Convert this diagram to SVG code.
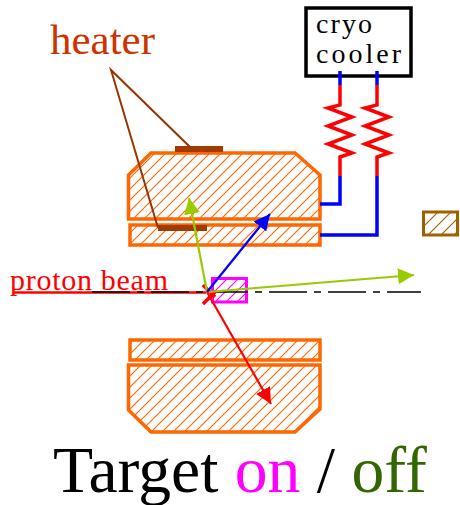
<svg xmlns="http://www.w3.org/2000/svg" width="460" height="505" viewBox="0 0 460 505">
<style>
.s{font-family:"Liberation Serif",serif}
.o{fill:url(#ho);stroke:#ff6600;stroke-width:3.5}
.w{fill:none;stroke-width:3.5}
.red{stroke:#ff0000}.blue{stroke:#0000ff}
.htr{fill:#a03c00}
.lead{fill:none;stroke:#993300;stroke-width:2}
</style>
<defs>
<pattern id="ho" width="11" height="11" patternUnits="userSpaceOnUse"><rect width="11" height="11" fill="#fff"/><path d="M-1 12L12 -1M-1 1L1 -1M10 12L12 10" stroke="#ff6600" stroke-width="1.100" fill="none"/></pattern>
<pattern id="hb" width="13" height="13" patternUnits="userSpaceOnUse"><rect width="13" height="13" fill="#fff"/><path d="M-1 14L14 -1M-1 1L1 -1M12 14L14 12" stroke="#a06000" stroke-width="1.100" fill="none"/></pattern>
<pattern id="hm" width="11" height="11" patternUnits="userSpaceOnUse"><rect width="11" height="11" fill="#fff"/><path d="M-1 12L12 -1M-1 1L1 -1M10 12L12 10" stroke="#ff00ff" stroke-width="1.100" fill="none"/></pattern>
<marker id="ag" markerUnits="userSpaceOnUse" markerWidth="18" markerHeight="16" refX="16" refY="8" orient="auto"><path d="M0 0L16 8L0 16Z" fill="#99cc00"/></marker>
<marker id="ab" markerUnits="userSpaceOnUse" markerWidth="18" markerHeight="16" refX="16" refY="8" orient="auto"><path d="M0 0L16 8L0 16Z" fill="#0000ff"/></marker>
<marker id="ar" markerUnits="userSpaceOnUse" markerWidth="18" markerHeight="16" refX="16" refY="8" orient="auto"><path d="M0 0L16 8L0 16Z" fill="#ff0000"/></marker>
</defs>
<g id="magnet-upper"><path class="o" d="M128.5 175L151 153H295L320 175V219H128.5Z"/><rect class="o" x="130" y="225" width="190" height="20"/></g>
<g id="magnet-lower"><rect class="o" x="130" y="340" width="190" height="20"/><path class="o" d="M128.5 365H320V409L295 432H151L128.5 410Z"/></g>
<g id="heater"><text class="s" x="50" y="54" font-size="43" fill="#cc3300">heater</text><rect class="htr" x="175" y="146" width="48" height="6"/><rect class="htr" x="158" y="225" width="49" height="6"/></g>
<g id="cryo-cooler"><rect x="306" y="8" width="105" height="68" fill="#fff" stroke="#000" stroke-width="3.5"/>
<text class="s" x="316" y="33" font-size="28" textLength="56" lengthAdjust="spacing">cryo</text><text class="s" x="316" y="63" font-size="28" textLength="85" lengthAdjust="spacing">cooler</text></g>
<g id="brown-box"><rect x="423.500" y="212" width="34" height="23" fill="url(#hb)" stroke="#a06000" stroke-width="3"/></g>
<g id="target"><rect x="212.500" y="278.500" width="34" height="23.500" fill="url(#hm)" stroke="#ff00ff" stroke-width="3"/></g>
<g id="connectors">
<path class="w blue" d="M340 71V85M377 71V85M340 176V204H320M377 176V235H320"/>
<path class="w red" d="M340 85V105L328 108L352 117L328 126L352 135L328 144L352 153L340 157V176M377 85V105L365 108L389 117L365 126L389 135L365 144L389 153L377 157V176"/>
<path class="lead" d="M190 147L111 70L158 228"/>
<line x1="14" y1="292.500" x2="206" y2="292.500" stroke="#ff0000" stroke-width="2.500"/>
<line x1="92" y1="292" x2="421" y2="292" stroke="#000" stroke-width="1.500" stroke-dasharray="38 7 7 7"/>
<path d="M203 285L215 297M216 291L203 304" fill="none" stroke="#ff0000" stroke-width="3.500"/>
<line x1="207" y1="292" x2="189" y2="198" stroke="#99cc00" stroke-width="2.200" marker-end="url(#ag)"/>
<line x1="207" y1="292" x2="414" y2="275" stroke="#99cc00" stroke-width="2.200" marker-end="url(#ag)"/>
<line x1="207" y1="292" x2="270" y2="214" stroke="#0000ff" stroke-width="2.200" marker-end="url(#ab)"/>
<line x1="207" y1="292" x2="271" y2="404" stroke="#ff0000" stroke-width="2.200" marker-end="url(#ar)"/>
</g>
<text class="s" x="10" y="290" font-size="30" fill="#ff0000" textLength="158" lengthAdjust="spacing">proton beam</text>
<text class="s" x="53" y="492" font-size="65.600">Target <tspan fill="#ff00ff">on</tspan> / <tspan fill="#336600">off</tspan></text>
</svg>
